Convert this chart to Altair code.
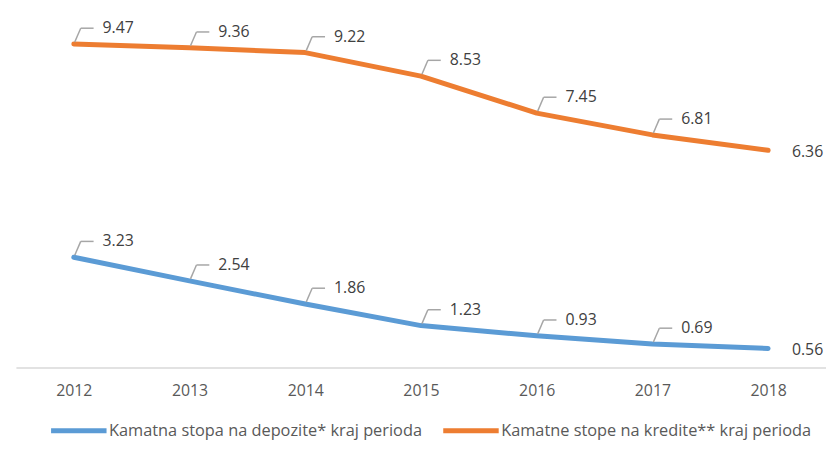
import altair as alt
import pandas as pd

years = [2012, 2013, 2014, 2015, 2016, 2017, 2018]
deposit = [3.23, 2.54, 1.86, 1.23, 0.93, 0.69, 0.56]
credit = [9.47, 9.36, 9.22, 8.53, 7.45, 6.81, 6.36]
series_names = ["Kamatna stopa na depozite* kraj perioda",
                "Kamatne stope na kredite** kraj perioda"]
colors = ["#5B9BD5", "#ED7D31"]

rows = []
for name, vals in zip(series_names, [deposit, credit]):
    for y, v in zip(years, vals):
        rows.append({"year": y, "value": v, "series": name, "label": f"{v:.2f}"})
df = pd.DataFrame(rows)

FONT = "Open Sans"
last_year = years[-1]

x_enc = alt.X("year:Q",
              scale=alt.Scale(domain=[years[0] - 0.5, years[-1] + 0.5], nice=False, zero=False),
              axis=alt.Axis(values=years, format="d", title=None, grid=False, ticks=False,
                            domain=True, domainColor="#D9D9D9", domainWidth=1.5,
                            labelColor="#595959", labelFontSize=16, labelFont=FONT,
                            labelPadding=15))
y_enc = alt.Y("value:Q", scale=alt.Scale(domain=[0, 10], nice=False), axis=None)

base = alt.Chart(df)

lines = base.mark_line(strokeWidth=5, strokeCap="round", strokeJoin="round").encode(
    x=x_enc, y=y_enc,
    color=alt.Color("series:N",
                    scale=alt.Scale(domain=series_names, range=colors),
                    legend=alt.Legend(title=None, orient="none", direction="horizontal",
                                      legendX=33, legendY=378,
                                      symbolType="stroke", symbolSize=3136,
                                      symbolStrokeWidth=5, labelFontSize=16.5,
                                      labelFont=FONT, labelColor="#595959",
                                      labelLimit=0, labelOffset=0, columnPadding=10)),
)

inner = base.transform_filter(alt.datum.year != last_year)

lead1 = inner.mark_rule(color="#A6A6A6", strokeWidth=1.5,
                        xOffset=1, yOffset=-2, x2Offset=7, y2Offset=-16).encode(
    x=x_enc, x2="year:Q", y=y_enc, y2="value:Q")
lead2 = inner.mark_rule(color="#A6A6A6", strokeWidth=1.5,
                        xOffset=7, yOffset=-16, x2Offset=20, y2Offset=-16).encode(
    x=x_enc, x2="year:Q", y=y_enc, y2="value:Q")

text_inner = inner.mark_text(align="left", baseline="middle", dx=29, dy=-16,
                             fontSize=16, font=FONT, color="#404040").encode(
    x=x_enc, y=y_enc, text="label:N")
text_last = base.transform_filter(alt.datum.year == last_year).mark_text(
    align="left", baseline="middle", dx=24, dy=2,
    fontSize=16, font=FONT, color="#404040").encode(
    x=x_enc, y=y_enc, text="label:N")

chart = alt.layer(lines, lead1, lead2, text_inner, text_last).properties(
    width=818, height=345,
    autosize=alt.AutoSizeParams(type="none"),
    padding={"left": 8, "top": 16, "right": 0, "bottom": 72},
).configure_view(stroke=None)

chart.save("out.html", embed_options={"renderer": "svg", "actions": False})
